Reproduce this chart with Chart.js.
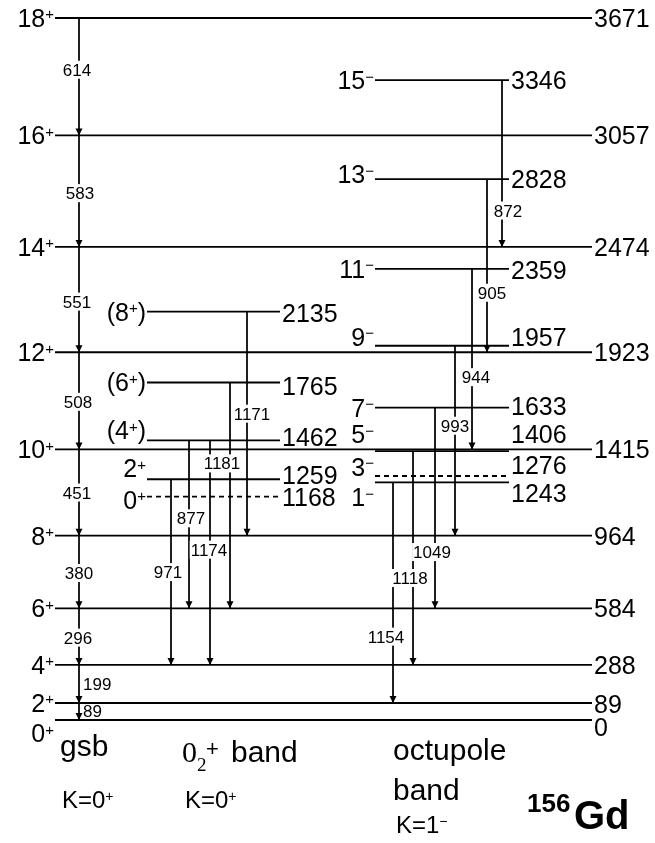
<!DOCTYPE html>
<html lang="en">
<head>
  <meta charset="UTF-8">
  <title>156Gd level scheme</title>
  <script src="https://cdn.jsdelivr.net/npm/chart.js"></script>
  <style>
    body { margin: 0; background: #fff; }
    #wrap { width: 655px; height: 843px; }
  </style>
</head>
<body>

<div id="wrap"><canvas id="chart" width="655" height="843"></canvas></div>

<script>
// ground state band
const gsbSpins = ['0+', '2+', '4+', '6+', '8+', '10+', '12+', '14+', '16+', '18+'];
const gsbEnergies = [0, 89, 288, 584, 964, 1415, 1923, 2474, 3057, 3671];
const gsbGammas = [89, 199, 296, 380, 451, 508, 551, 583, 614];

// second 0+ band
const betaSpins = ['0+', '2+', '(4+)', '(6+)', '(8+)'];
const betaEnergies = [1168, 1259, 1462, 1765, 2135];
const betaFrom = [1259, 1462, 1462, 1765, 2135];
const betaGammas = [971, 877, 1174, 1181, 1171];

// octupole band
const octSpins = ['1−', '3−', '5−', '7−', '9−', '11−', '13−', '15−'];
const octEnergies = [1243, 1276, 1406, 1633, 1957, 2359, 2828, 3346];
const octFrom = [1243, 1406, 1633, 1957, 2359, 2828, 3346];
const octGammas = [1154, 1118, 1049, 993, 944, 905, 872];

// drawing layout (pixels)
const bandLayout = [
  { spins: gsbSpins, energies: gsbEnergies, x0: 55, x1: 592, dashed: [],
    spinDy: [13, 0, 0, 0, 0, 0, 0, 0, 0, 0], energyDy: [7, 1, 0, 0, 0, 0, 0, 0, 0, 0] },
  { spins: betaSpins, energies: betaEnergies, x0: 147, x1: 280, dashed: [0],
    spinDy: [3, -11, -10, 0, 0], energyDy: [0, -4, -3, 4, 1] },
  { spins: octSpins, energies: octEnergies, x0: 375, x1: 509, dashed: [1],
    spinDy: [15, -9, -17, 0, -9, 0, -5, 0], energyDy: [11, -11, -17, -2, -9, 1, 0, 0] }
];

const gsbFrom = gsbEnergies.slice(1);
const transLayout = [
  { from: gsbFrom, gammas: gsbGammas, x: [79, 79, 79, 79, 79, 79, 79, 79, 79],
    dx: [4, 4, -1, 0, -2, -1, -2, 1, -2], dy: [0, 0, 1, 1, 0, 1, 2, 2, -7],
    side: ['right', 'right', 'c', 'c', 'c', 'c', 'c', 'c', 'c'] },
  { from: betaFrom, gammas: betaGammas, x: [171, 189, 210, 230, 247],
    dx: [-3, 2, -1, -8, 5], dy: [0, -6, -3, -32, -10] },
  { from: octFrom, gammas: octGammas, x: [393, 413, 435, 455, 472, 487, 502],
    dx: [-7, -3, -3, 0, 4, 5, 6], dy: [44, 20, 44, -15, 18, 27, 47] }
];

const FONT = '"Liberation Sans", Arial, sans-serif';

const datasets = [];
bandLayout.forEach(b => {
  b.energies.forEach((e, i) => {
    datasets.push({
      data: [{ x: b.x0, y: e }, { x: b.x1, y: e }],
      borderColor: '#000', borderWidth: 1.8,
      borderDash: b.dashed.includes(i) ? [5, 4] : [],
      showLine: true, pointRadius: 0
    });
  });
});
transLayout.forEach(t => {
  t.from.forEach((e, i) => {
    datasets.push({
      data: [{ x: t.x[i], y: e }, { x: t.x[i], y: e - t.gammas[i] }],
      borderColor: '#000', borderWidth: 1,
      showLine: true, pointRadius: 0
    });
  });
});

// text with + and − raised as superscripts
function drawSup(ctx, str, x, base, size, align) {
  const parts = str.split(/([+−])/).filter(s => s.length);
  const supSize = Math.round(size * 0.6);
  const widths = parts.map(p => {
    ctx.font = (p === '+' || p === '−' ? supSize : size) + 'px ' + FONT;
    return ctx.measureText(p).width;
  });
  const total = widths.reduce((a, b) => a + b, 0);
  let cx = align === 'right' ? x - total : x;
  ctx.textAlign = 'left';
  ctx.textBaseline = 'alphabetic';
  parts.forEach((p, i) => {
    const sup = p === '+' || p === '−';
    ctx.font = (sup ? supSize : size) + 'px ' + FONT;
    ctx.fillText(p, cx, sup ? base - size * 0.3 : base);
    cx += widths[i];
  });
}

const schemePlugin = {
  id: 'scheme',
  afterDatasetsDraw(chart) {
    const ctx = chart.ctx;
    const xs = chart.scales.x, ys = chart.scales.y;
    ctx.save();
    ctx.fillStyle = '#000';

    // arrowheads and gamma energies
    transLayout.forEach(t => {
      t.from.forEach((e, i) => {
        const px = xs.getPixelForValue(t.x[i]);
        const pTop = ys.getPixelForValue(e);
        const pEnd = ys.getPixelForValue(e - t.gammas[i]);
        ctx.fillStyle = '#000';
        ctx.beginPath();
        ctx.moveTo(px - 3.5, pEnd - 7);
        ctx.lineTo(px + 3.5, pEnd - 7);
        ctx.lineTo(px, pEnd);
        ctx.closePath();
        ctx.fill();

        const label = String(t.gammas[i]);
        const ly = (pTop + pEnd) / 2 + t.dy[i];
        ctx.font = '17px ' + FONT;
        const w = ctx.measureText(label).width;
        const right = t.side && t.side[i] === 'right';
        const lx = right ? px + t.dx[i] : px + t.dx[i] - w / 2;
        if (!right) {
          ctx.fillStyle = '#fff';
          ctx.fillRect(lx - 1, ly - 9, w + 2, 18);
        }
        ctx.fillStyle = '#000';
        ctx.textAlign = 'left';
        ctx.textBaseline = 'alphabetic';
        ctx.fillText(label, lx, ly + 6);
      });
    });

    // spin and energy of each level
    bandLayout.forEach(b => {
      b.energies.forEach((e, i) => {
        const py = ys.getPixelForValue(e);
        drawSup(ctx, b.spins[i], xs.getPixelForValue(b.x0) - 1, py + b.spinDy[i] + 9, 25, 'right');
        ctx.font = '25px ' + FONT;
        ctx.textAlign = 'left';
        ctx.fillText(String(e), xs.getPixelForValue(b.x1) + 2, py + b.energyDy[i] + 9);
      });
    });

    // band names
    ctx.textAlign = 'left';
    ctx.font = '30px ' + FONT;
    ctx.fillText('gsb', 60, 756);
    ctx.font = '30px "Liberation Serif", serif';
    ctx.fillText('0', 182, 762);
    ctx.font = '19px "Liberation Serif", serif';
    ctx.fillText('2', 197, 771);
    ctx.font = '22px ' + FONT;
    ctx.fillText('+', 206, 756);
    ctx.font = '30px ' + FONT;
    ctx.fillText('band', 231, 762);
    ctx.fillText('octupole', 393, 760);
    ctx.fillText('band', 393, 800);
    drawSup(ctx, 'K=0+', 62, 808, 24, 'left');
    drawSup(ctx, 'K=0+', 185, 808, 24, 'left');
    drawSup(ctx, 'K=1−', 396, 833, 24, 'left');

    ctx.font = 'bold 26px ' + FONT;
    ctx.fillText('156', 527, 812);
    ctx.font = 'bold 40px ' + FONT;
    ctx.fillText('Gd', 574, 829);
    ctx.restore();
  }
};

new Chart(document.getElementById('chart').getContext('2d'), {
  type: 'scatter',
  data: { datasets: datasets },
  options: {
    responsive: false,
    animation: false,
    layout: { padding: 0 },
    plugins: { legend: { display: false }, tooltip: { enabled: false } },
    scales: {
      x: { type: 'linear', min: 0, max: 655, display: false },
      y: { type: 'linear', min: -643.2, max: 3765.1, display: false }
    }
  },
  plugins: [schemePlugin]
});
</script>

</body>
</html>
